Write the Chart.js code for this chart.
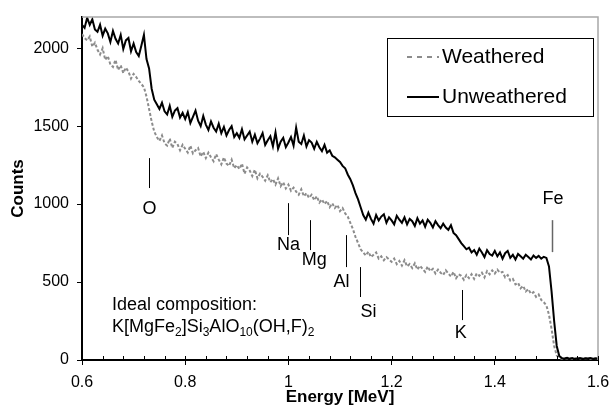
<!DOCTYPE html>
<html>
<head>
<meta charset="utf-8">
<script src="https://cdn.jsdelivr.net/npm/chart.js@4.4.1/dist/chart.umd.min.js"></script>
<style>
  html, body { margin: 0; padding: 0; background: #fff; }
</style>
</head>
<body>
<canvas id="rbs" width="609" height="408"></canvas>
<script>
// Channel energies (MeV)
const energy = [
  0.600, 0.605, 0.610, 0.615, 0.620, 0.625, 0.630, 0.635, 0.640, 0.645,
  0.650, 0.655, 0.660, 0.665, 0.670, 0.675, 0.680, 0.685, 0.690, 0.695,
  0.700, 0.705, 0.710, 0.715, 0.720, 0.725, 0.730, 0.735, 0.740, 0.745,
  0.750, 0.755, 0.760, 0.765, 0.770, 0.775, 0.780, 0.785, 0.790, 0.795,
  0.800, 0.805, 0.810, 0.815, 0.820, 0.825, 0.830, 0.835, 0.840, 0.845,
  0.850, 0.855, 0.860, 0.865, 0.870, 0.875, 0.880, 0.885, 0.890, 0.895,
  0.900, 0.905, 0.910, 0.915, 0.920, 0.925, 0.930, 0.935, 0.940, 0.945,
  0.950, 0.955, 0.960, 0.965, 0.970, 0.975, 0.980, 0.985, 0.990, 0.995,
  1.000, 1.005, 1.010, 1.015, 1.020, 1.025, 1.030, 1.035, 1.040, 1.045,
  1.050, 1.055, 1.060, 1.065, 1.070, 1.075, 1.080, 1.085, 1.090, 1.095,
  1.100, 1.105, 1.110, 1.115, 1.120, 1.125, 1.130, 1.135, 1.140, 1.145,
  1.150, 1.155, 1.160, 1.165, 1.170, 1.175, 1.180, 1.185, 1.190, 1.195,
  1.200, 1.205, 1.210, 1.215, 1.220, 1.225, 1.230, 1.235, 1.240, 1.245,
  1.250, 1.255, 1.260, 1.265, 1.270, 1.275, 1.280, 1.285, 1.290, 1.295,
  1.300, 1.305, 1.310, 1.315, 1.320, 1.325, 1.330, 1.335, 1.340, 1.345,
  1.350, 1.355, 1.360, 1.365, 1.370, 1.375, 1.380, 1.385, 1.390, 1.395,
  1.400, 1.405, 1.410, 1.415, 1.420, 1.425, 1.430, 1.435, 1.440, 1.445,
  1.450, 1.455, 1.460, 1.465, 1.470, 1.475, 1.480, 1.485, 1.490, 1.495,
  1.500, 1.505, 1.510, 1.515, 1.520, 1.525, 1.530, 1.535, 1.540, 1.545,
  1.550, 1.555, 1.560, 1.565, 1.570, 1.575, 1.580, 1.585, 1.590, 1.595,
  1.600
];

const weathered = [
  2090, 2065, 2050, 2075, 2010, 2035, 1990, 1960, 2000, 1925,
  1950, 1895, 1880, 1925, 1860, 1890, 1840, 1875, 1850, 1805,
  1835, 1815, 1790, 1770, 1750, 1690, 1610, 1530, 1465, 1430,
  1405, 1440, 1390, 1375, 1420, 1360, 1400, 1385, 1345, 1380,
  1355, 1330, 1375, 1325, 1345, 1360, 1305, 1335, 1295, 1330,
  1300, 1275, 1320, 1285, 1255, 1300, 1260, 1245, 1285, 1230,
  1250, 1225, 1260, 1195, 1235, 1215, 1180, 1220, 1165, 1195,
  1175, 1150, 1185, 1140, 1160, 1125, 1165, 1115, 1140, 1100,
  1125, 1085, 1105, 1080, 1060, 1095, 1050, 1070, 1040, 1060,
  1025, 1050, 1010, 1030, 1000, 1020, 980, 1005, 975, 995,
  955, 975, 940, 920, 880, 840, 790, 750, 710, 690,
  670, 695, 660, 675, 690, 650, 665, 640, 660, 645,
  630, 650, 615, 635, 605, 640, 600, 615, 590, 620,
  580, 605, 585, 565, 600, 570, 585, 555, 580, 560,
  545, 575, 555, 535, 565, 525, 550, 540, 515, 545,
  525, 550, 520, 555, 540, 560, 530, 570, 550, 575,
  555, 580, 560, 565, 530, 545, 510, 520, 485, 495,
  460, 475, 440, 455, 425, 435, 405, 420, 385, 370,
  350, 290, 200, 90, 30, 12, 8, 12, 9, 13,
  7, 11, 10, 8, 12, 9, 11, 7, 10, 12,
  8
];

const unweathered = [
  2150, 2130, 2195, 2150, 2185, 2120, 2105, 2150, 2080, 2125,
  2095, 2040, 2110, 2060, 2030, 2085, 1995, 2050, 2065, 1980,
  2030, 1975, 1950, 2015, 2085, 1930, 1870, 1740, 1670, 1640,
  1610, 1650, 1595, 1575, 1630, 1560, 1600, 1615, 1555, 1585,
  1545, 1590, 1520, 1560, 1600, 1535, 1500, 1565, 1510, 1475,
  1530, 1490, 1465, 1515, 1455, 1495, 1440, 1475, 1500, 1430,
  1455, 1425, 1480, 1415, 1440, 1465, 1400, 1445, 1390, 1420,
  1455, 1380, 1410, 1435, 1370, 1460, 1355, 1400, 1425, 1365,
  1395, 1430, 1375, 1490, 1400, 1385, 1440, 1370, 1410, 1395,
  1355, 1400, 1365, 1340, 1380, 1330, 1345, 1310, 1300, 1285,
  1270, 1245, 1230, 1190, 1160, 1120, 1070, 1030, 980, 930,
  900, 945, 905, 875, 930, 895, 920, 935, 880, 915,
  895, 870, 925, 900, 880, 915, 870, 905, 890, 860,
  910, 875, 895, 855, 900, 880, 850, 890, 865, 845,
  875, 850, 835, 865, 815, 800, 775, 750, 730, 710,
  720, 690, 705, 675, 715, 690, 660, 705, 680, 670,
  700, 665, 690, 650, 685, 700, 655, 675, 645, 680,
  665, 650, 675, 660, 645, 670, 655, 668, 650, 662,
  655, 600, 440, 250, 90, 25, 12, 10, 14, 8,
  12, 6, 10, 13, 7, 11, 9, 12, 8, 10,
  9
];

const seriesNames = ['Weathered', 'Unweathered'];
const yTicks = [0, 500, 1000, 1500, 2000];

// Surface edges of the elements (energy, MeV) and marker extents (counts)
const elementNames = ['O', 'Na', 'Mg', 'Al', 'Si', 'K', 'Fe'];
const elementEnergy = [0.730, 1.000, 1.041, 1.112, 1.138, 1.337, 1.511];
const markerTop = [1295, 1006, 897, 801, 596, 449, 897];
const markerBottom = [1103, 801, 705, 596, 404, 256, 692];
const labelEnergy = [0.731, 1.000, 1.050, 1.103, 1.155, 1.334, 1.513];
const labelCounts = [968, 737, 641, 500, 308, 173, 1032];

const compositionTitle = 'Ideal composition:';
const compositionParts = [
  ['K[MgFe', false], ['2', true], [']Si', false], ['3', true],
  ['AlO', false], ['10', true], ['(OH,F)', false], ['2', true]
];

const FONT = '"Liberation Sans", Arial, sans-serif';

const points = (ys) => ys.map((y, i) => ({ x: energy[i], y }));

const annotations = {
  id: 'annotations',
  afterDatasetsDraw(chart) {
    const { ctx, scales: { x, y }, chartArea: a } = chart;
    ctx.save();

    // top / right frame
    ctx.strokeStyle = '#a8a8a8';
    ctx.lineWidth = 1.5;
    ctx.beginPath();
    ctx.moveTo(a.left, a.top);
    ctx.lineTo(a.right, a.top);
    ctx.lineTo(a.right, a.bottom);
    ctx.stroke();

    // minor ticks on the energy axis (inside)
    ctx.strokeStyle = '#000';
    ctx.lineWidth = 1;
    for (let e = 0.6; e < 1.6001; e += 0.04) {
      const px = Math.round(x.getPixelForValue(e)) + 0.5;
      ctx.beginPath();
      ctx.moveTo(px, a.bottom);
      ctx.lineTo(px, a.bottom - 4);
      ctx.stroke();
    }

    // element markers
    ctx.font = '18px ' + FONT;
    ctx.textAlign = 'center';
    ctx.textBaseline = 'middle';
    elementNames.forEach((name, i) => {
      const px = Math.round(x.getPixelForValue(elementEnergy[i])) + 0.5;
      ctx.strokeStyle = name === 'Fe' ? '#666' : '#000';
      ctx.lineWidth = name === 'Fe' ? 1.5 : 1;
      ctx.beginPath();
      ctx.moveTo(px, y.getPixelForValue(markerTop[i]));
      ctx.lineTo(px, y.getPixelForValue(markerBottom[i]));
      ctx.stroke();
      ctx.fillStyle = '#000';
      ctx.fillText(name, x.getPixelForValue(labelEnergy[i]), y.getPixelForValue(labelCounts[i]));
    });

    // composition note
    ctx.textAlign = 'left';
    ctx.textBaseline = 'alphabetic';
    ctx.font = '18px ' + FONT;
    const tx = a.left + 30;
    ctx.fillText(compositionTitle, tx, 310);
    let cx = tx;
    compositionParts.forEach(([txt, sub]) => {
      ctx.font = (sub ? '12px ' : '18px ') + FONT;
      ctx.fillText(txt, cx, sub ? 336 : 332);
      cx += ctx.measureText(txt).width;
    });

    // legend box
    const lx = 387, ly = 38, lw = 206, lh = 78;
    ctx.fillStyle = '#fff';
    ctx.fillRect(lx, ly, lw, lh);
    ctx.strokeStyle = '#000';
    ctx.lineWidth = 1;
    ctx.strokeRect(lx + 0.5, ly + 0.5, lw, lh);
    ctx.font = '21px ' + FONT;
    ctx.textBaseline = 'middle';
    chart.data.datasets.forEach((ds, i) => {
      const yy = ly + 19 + i * 40;
      ctx.strokeStyle = ds.borderColor;
      ctx.lineWidth = 2;
      ctx.setLineDash(ds.legendDash || []);
      ctx.beginPath();
      ctx.moveTo(lx + 20, yy);
      ctx.lineTo(lx + 52, yy);
      ctx.stroke();
      ctx.setLineDash([]);
      ctx.fillStyle = '#000';
      ctx.fillText(ds.label, lx + 55, yy);
    });
    ctx.restore();
  }
};

new Chart(document.getElementById('rbs'), {
  type: 'line',
  data: {
    datasets: [
      {
        label: seriesNames[0],
        data: points(weathered),
        borderColor: '#8c8c8c',
        borderWidth: 2,
        borderDash: [3, 2],
        legendDash: [5, 5],
        pointRadius: 0,
        tension: 0,
        order: 1
      },
      {
        label: seriesNames[1],
        data: points(unweathered),
        borderColor: '#000',
        borderWidth: 2,
        pointRadius: 0,
        tension: 0,
        order: 0
      }
    ]
  },
  options: {
    responsive: false,
    animation: false,
    layout: { padding: { left: 0, right: 11, top: 17, bottom: 0 } },
    plugins: { legend: { display: false }, tooltip: { enabled: false } },
    scales: {
      x: {
        type: 'linear',
        min: 0.6,
        max: 1.6,
        border: { color: '#000', width: 2 },
        grid: { drawOnChartArea: false, color: '#000', tickLength: 5 },
        ticks: {
          stepSize: 0.2,
          color: '#000',
          padding: 8,
          font: { family: FONT, size: 16 },
          callback: (v) => String(Number(v.toFixed(1)))
        },
        title: {
          display: true,
          text: 'Energy [MeV]',
          color: '#000',
          font: { family: FONT, size: 17, weight: 'bold' },
          padding: { top: 0, bottom: 0 }
        },
        afterFit(s) { s.height = 48; s.paddingLeft = 0; s.paddingRight = 0; }
      },
      y: {
        min: 0,
        max: 2200,
        border: { color: '#000', width: 2 },
        grid: { drawOnChartArea: false, color: '#000', tickLength: 5 },
        afterBuildTicks(s) { s.ticks = yTicks.map(v => ({ value: v })); },
        ticks: {
          color: '#000',
          padding: 8,
          font: { family: FONT, size: 16 },
          callback: (v) => String(v)
        },
        title: {
          display: true,
          text: 'Counts',
          color: '#000',
          font: { family: FONT, size: 17, weight: 'bold' },
          padding: { top: 8, bottom: 0 }
        },
        afterFit(s) { s.width = 82; s.paddingTop = 0; s.paddingBottom = 0; }
      }
    }
  },
  plugins: [annotations]
});
</script>
</body>
</html>
